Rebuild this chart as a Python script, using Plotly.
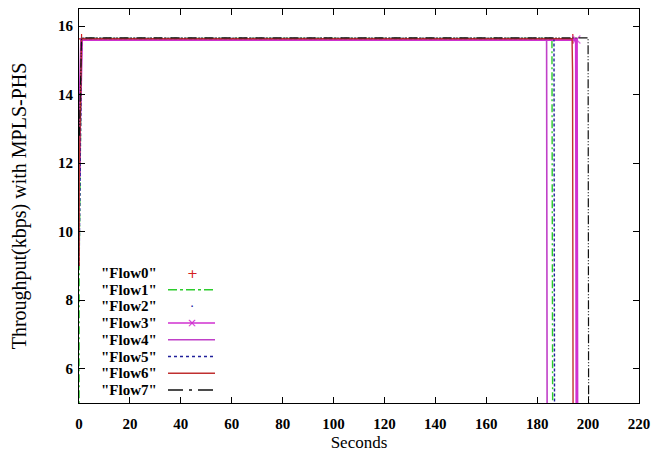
import plotly.graph_objects as go

# ---------------- data ----------------
flow_names = ["Flow0", "Flow1", "Flow2", "Flow3", "Flow4", "Flow5", "Flow6", "Flow7"]

flow0_t = [0, 1, 194.0]
flow0_v = [0, 15.63, 15.63]

flow1_t = [0, 0.05, 1, 185.8, 186.2]
flow1_v = [0, 9.0, 15.64, 15.64, 0]

flow2_t = [0, 1, 186.5]
flow2_v = [0, 15.63, 15.63]

flow3_t = [0.1, 0.15, 1, 195.4, 195.7]
flow3_v = [11.6, 12.8, 15.61, 15.61, 0]

flow4_t = [0.1, 0.15, 1, 183.7, 184.0]
flow4_v = [11.6, 12.8, 15.63, 15.63, 0]

flow5_t = [0.05, 1, 186.6, 186.9]
flow5_v = [9.0, 15.64, 15.64, 0]

flow6_t = [0.05, 0.1, 1, 193.7, 193.9, 194.2]
flow6_v = [9.0, 11.6, 15.63, 15.63, 14.7, 0]

flow7_t = [0.15, 0.6, 1, 200.0, 200.3]
flow7_v = [12.8, 15.0, 15.66, 15.66, 0]

x_ticks = [0, 20, 40, 60, 80, 100, 120, 140, 160, 180, 200, 220]
y_ticks = [6, 8, 10, 12, 14, 16]

# ---------------- styles ----------------
RED = "#d42020"
GREEN = "#2ccc2c"
BLUE = "#2020a0"
MAG = "#d030d0"
MAG2 = "#c040c8"
NAVY = "#20209a"
BROWN = "#c03030"
BLACK = "#111111"

fig = go.Figure()

def add_line(t, v, color, width, dash="solid", mode="lines", marker=None):
    fig.add_trace(go.Scatter(x=t, y=v, mode=mode,
                             line=dict(color=color, width=width, dash=dash),
                             marker=marker, showlegend=False, hoverinfo="skip"))

add_line(flow0_t, flow0_v, RED, 1, mode="markers",
         marker=dict(symbol="cross-thin", size=7, line=dict(color=RED, width=1.2)))
add_line(flow1_t, flow1_v, GREEN, 1.4, dash="8px,3px,2px,3px")
add_line(flow2_t, flow2_v, BLUE, 1, mode="markers",
         marker=dict(symbol="circle", size=2, color=BLUE))
add_line(flow3_t, flow3_v, MAG, 3.0, mode="lines+markers",
         marker=dict(symbol="x-thin", size=[0, 0, 0, 8, 0], line=dict(color=MAG, width=1.2)))
add_line(flow4_t, flow4_v, MAG2, 1.6)
add_line(flow5_t, flow5_v, NAVY, 1.4, dash="3px,2px")
add_line(flow6_t, flow6_v, BROWN, 1.4)
add_line(flow7_t, flow7_v, BLACK, 1.2, dash="9px,2px,1px,2px,1px,2px")

# ---------------- page geometry (browser adds an 8px body margin) ----------------
OFF = 8
WIN_W, WIN_H = 667, 452
W, H = WIN_W - OFF, WIN_H - OFF
PL, PR, PT, PB = 79, 639, 9, 403          # plot box in window pixels
L, R, T, B = PL - OFF, W - (PR - OFF), PT - OFF, H - (PB - OFF)

def px(x):
    return (x - PL) / (PR - PL)

def py(y):
    return (PB - y) / (PB - PT)

key_rows = [273, 289.7, 306.4, 323.1, 339.8, 356.5, 373.2, 389.9]
key_styles = [
    ("marker", RED, "+"),
    ("line", GREEN, "dashdot"),
    ("marker", BLUE, "·"),
    ("linex", MAG, "solid"),
    ("line", MAG2, "solid"),
    ("line", NAVY, "dot"),
    ("line", BROWN, "solid"),
    ("line", BLACK, "longdashdot"),
]
for name, yrow, (kind, col, sty) in zip(flow_names, key_rows, key_styles):
    fig.add_annotation(x=px(159), y=py(yrow), xref="paper", yref="paper",
                       text='"' + name + '"', showarrow=False, xanchor="right",
                       yanchor="middle",
                       font=dict(family="Liberation Serif", size=15, color="black", weight="bold"))
    if kind in ("line", "linex"):
        fig.add_shape(type="line", xref="paper", yref="paper",
                      x0=px(168), x1=px(215), y0=py(yrow), y1=py(yrow),
                      line=dict(color=col, width=1.5, dash=sty))
    if kind == "linex":
        fig.add_annotation(x=px(192), y=py(yrow), xref="paper", yref="paper",
                           text="×", showarrow=False, xanchor="center", yanchor="middle",
                           font=dict(family="DejaVu Sans", size=12, color=col))
    if kind == "marker":
        fig.add_annotation(x=px(192), y=py(yrow), xref="paper", yref="paper",
                           text=sty, showarrow=False, xanchor="center", yanchor="middle",
                           font=dict(family="DejaVu Sans", size=13, color=col))

axis_common = dict(showline=True, linecolor="black", linewidth=1.2, mirror="ticks",
                   ticks="inside", ticklen=6, tickcolor="black", showgrid=False,
                   zeroline=False,
                   tickfont=dict(family="Liberation Serif", size=15, color="black", weight="bold"))

fig.update_xaxes(range=[0, 220], tickvals=x_ticks, ticktext=[str(v) for v in x_ticks],
                 ticklabelstandoff=7,
                 title=dict(text="Seconds", standoff=8,
                            font=dict(family="Liberation Serif", size=17, color="black")),
                 **axis_common)
fig.update_yaxes(range=[5, 16.5], tickvals=y_ticks, ticktext=[str(v) for v in y_ticks],
                 ticklabelstandoff=2,
                 title=dict(text="Throughput(kbps) with MPLS-PHS", standoff=26,
                            font=dict(family="Liberation Serif", size=20, color="black")),
                 **axis_common)

fig.update_layout(width=W, height=H, margin=dict(l=L, r=R, t=T, b=B, autoexpand=False),
                  plot_bgcolor="white", paper_bgcolor="white", showlegend=False)

fig.write_html("out.html")
